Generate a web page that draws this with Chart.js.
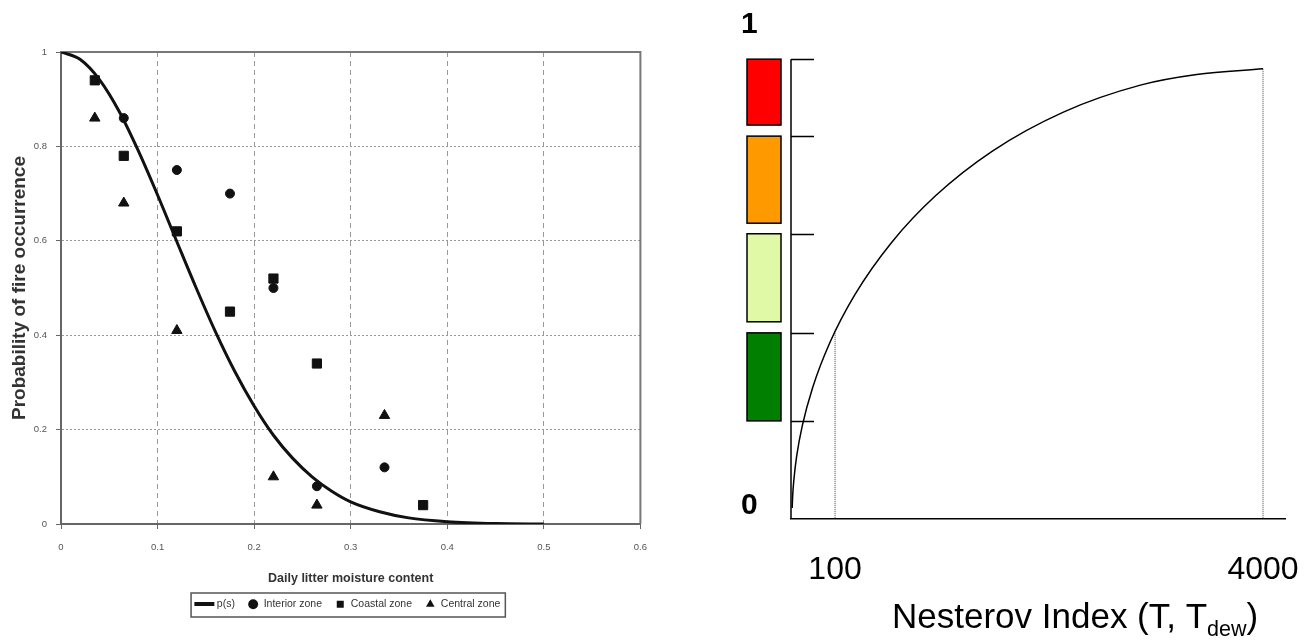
<!DOCTYPE html>
<html lang="en">
<head>
  <meta charset="UTF-8">
  <title>Probability of fire occurrence / Nesterov index</title>
  <script src="https://cdn.jsdelivr.net/npm/chart.js"></script>
  <style>
    html, body { margin: 0; padding: 0; background: #fff; }
    .wrap { position: relative; width: 1315px; height: 641px; }
    #leftBox { position: absolute; left: 0; top: 0; width: 660px; height: 641px; }
    #rightBox { position: absolute; left: 660px; top: 0; width: 655px; height: 641px; }
  </style>
</head>
<body>
  <div class="wrap">
    <div id="leftBox"><canvas id="moistureChart"></canvas></div>
    <div id="rightBox"><canvas id="nesterovChart"></canvas></div>
  </div>

  <script>
    // ---- left panel: probability of fire vs daily litter moisture ----
    const xTicksLeft = [0, 0.1, 0.2, 0.3, 0.4, 0.5, 0.6];
    const yTicksLeft = [0, 0.2, 0.4, 0.6, 0.8, 1];

    // fitted curve p(s)
    const moisture = [0, 0.02, 0.04, 0.06, 0.08, 0.1, 0.12, 0.14, 0.16, 0.18, 0.2, 0.22, 0.24, 0.26, 0.28, 0.3, 0.33, 0.36, 0.4, 0.45, 0.5];
    const pFit = [1, 0.984, 0.941, 0.875, 0.791, 0.697, 0.598, 0.5, 0.407, 0.323, 0.25, 0.188, 0.139, 0.1, 0.07, 0.047, 0.026, 0.013, 0.005, 0.001, 0];

    const interiorX = [0.065, 0.12, 0.175, 0.22, 0.265, 0.335];
    const interiorY = [0.86, 0.75, 0.70, 0.50, 0.08, 0.12];
    const coastalX = [0.035, 0.065, 0.12, 0.175, 0.22, 0.265, 0.375];
    const coastalY = [0.94, 0.78, 0.62, 0.45, 0.52, 0.34, 0.04];
    const centralX = [0.035, 0.065, 0.12, 0.22, 0.265, 0.335];
    const centralY = [0.86, 0.68, 0.41, 0.10, 0.04, 0.23];

    // ---- right panel: fire danger vs Nesterov index ----
    const nesterovTicks = [100, 4000];
    const dangerTicks = [0, 1];
    const nesterov = [69.1, 69.4, 70.1, 71.8, 75.4, 82.4, 95.3, 118.8, 162.8, 237.7, 388.2, 715.8, 1390, 2258, 4000];
    const danger = [0.023, 0.049, 0.081, 0.130, 0.194, 0.273, 0.365, 0.467, 0.575, 0.672, 0.765, 0.846, 0.902, 0.924, 0.936];
    const dropX = [100, 4000];
    const dropTop = [0.387, 0.936];
    // danger classes (top to bottom)
    const bandTop = [0.956, 0.796, 0.593, 0.387];
    const bandBottom = [0.819, 0.615, 0.410, 0.204];
    const bandColors = ['#ff0000', '#ff9900', '#dff9a6', '#007f00'];

    const pts = (xs, ys) => xs.map((x, i) => ({ x: x, y: ys[i] }));

    const ARIAL = 'Arial, "Liberation Sans", sans-serif';

    // thick line swatch for the p(s) legend entry
    const lineSwatch = document.createElement('canvas');
    lineSwatch.width = 26;
    lineSwatch.height = 4;
    const sctx = lineSwatch.getContext('2d');
    sctx.fillStyle = '#111';
    sctx.fillRect(1, 0, 20, 4);

    const plotFrame = {
      id: 'plotFrame',
      beforeDatasetsDraw(chart) {
        const { ctx, chartArea: a } = chart;
        ctx.save();
        ctx.strokeStyle = '#777';
        ctx.lineWidth = 2;
        ctx.beginPath();
        ctx.moveTo(a.left, a.top);
        ctx.lineTo(a.right, a.top);
        ctx.lineTo(a.right, a.bottom);
        ctx.stroke();
        ctx.restore();
      },
      afterDraw(chart) {
        const boxes = chart.legend && chart.legend.legendHitBoxes;
        if (!boxes || !boxes.length) return;
        const left = Math.min(...boxes.map(b => b.left)) - 10;
        const right = Math.max(...boxes.map(b => b.left + b.width)) + 5;
        const top = Math.min(...boxes.map(b => b.top)) - 6;
        const bottom = Math.max(...boxes.map(b => b.top + b.height)) + 7.5;
        const ctx = chart.ctx;
        ctx.save();
        ctx.strokeStyle = '#555';
        ctx.lineWidth = 1.5;
        ctx.strokeRect(left, top, right - left, bottom - top);
        ctx.restore();
      }
    };

    new Chart(document.getElementById('moistureChart'), {
      type: 'scatter',
      data: {
        datasets: [
          {
            label: 'p(s)',
            data: pts(moisture, pFit),
            showLine: true,
            cubicInterpolationMode: 'monotone',
            borderColor: '#111',
            borderWidth: 3,
            pointRadius: 0,
            pointStyle: 'line'
          },
          {
            label: 'Interior zone',
            data: pts(interiorX, interiorY),
            pointStyle: 'circle',
            pointRadius: 4.5,
            backgroundColor: '#111',
            borderColor: '#111'
          },
          {
            label: 'Coastal zone',
            data: pts(coastalX, coastalY),
            pointStyle: 'rect',
            pointRadius: 6.5,
            backgroundColor: '#111',
            borderColor: '#111'
          },
          {
            label: 'Central zone',
            data: pts(centralX, centralY),
            pointStyle: 'triangle',
            pointRadius: 6,
            backgroundColor: '#111',
            borderColor: '#111'
          }
        ]
      },
      options: {
        responsive: true,
        maintainAspectRatio: false,
        animation: false,
        layout: { padding: { left: 0, top: 52, right: 18, bottom: 21.5 } },
        plugins: {
          tooltip: { enabled: false },
          legend: {
            position: 'bottom',
            fullSize: false,
            labels: {
              usePointStyle: true,
              boxHeight: 7,
              padding: 13,
              color: '#333',
              font: { family: ARIAL, size: 10.5 },
              generateLabels(chart) {
                return chart.data.datasets.map((ds, i) => ({
                  text: ds.label,
                  fillStyle: '#111',
                  strokeStyle: '#111',
                  lineWidth: 0,
                  pointStyle: i === 0 ? lineSwatch : ds.pointStyle,
                  hidden: false,
                  datasetIndex: i,
                  fontColor: '#333'
                }));
              }
            }
          }
        },
        scales: {
          x: {
            type: 'linear',
            min: 0,
            max: 0.6,
            afterBuildTicks(scale) { scale.ticks = xTicksLeft.map(v => ({ value: v })); },
            afterFit(scale) { scale.height = 62; },
            ticks: {
              padding: 13,
              color: '#555',
              font: { family: ARIAL, size: 9.5 },
              callback: v => String(v)
            },
            grid: {
              color: '#999',
              lineWidth: 1,
              tickLength: 5,
              tickColor: '#666',
              tickBorderDash: []
            },
            border: { display: true, color: '#666', width: 2, dash: [5, 4] },
            title: {
              display: true,
              text: 'Daily litter moisture content',
              color: '#333',
              font: { family: ARIAL, size: 12.5, weight: 'bold' },
              padding: { top: 0, bottom: 0 }
            }
          },
          y: {
            type: 'linear',
            min: 0,
            max: 1,
            afterBuildTicks(scale) { scale.ticks = yTicksLeft.map(v => ({ value: v })); },
            afterFit(scale) { scale.width = 61; },
            ticks: {
              padding: 9,
              color: '#555',
              font: { family: ARIAL, size: 9.5 },
              callback: v => String(v)
            },
            grid: {
              color: '#999',
              lineWidth: 1,
              tickLength: 5,
              tickColor: '#666',
              tickBorderDash: []
            },
            border: { display: true, color: '#666', width: 2, dash: [2, 2] },
            title: {
              display: true,
              text: 'Probability of fire occurrence',
              color: '#333',
              font: { family: ARIAL, size: 19, weight: 'bold' },
              padding: { top: 8, bottom: 0 }
            }
          }
        }
      },
      plugins: [plotFrame]
    });

    // coloured danger classes, their tick marks and the vertical axis line
    const dangerBands = {
      id: 'dangerBands',
      beforeDatasetsDraw(chart) {
        const { ctx, chartArea: a } = chart;
        const y = chart.scales.y;
        ctx.save();
        ctx.lineWidth = 1.5;
        ctx.strokeStyle = '#000';
        bandTop.forEach((top, i) => {
          const y1 = y.getPixelForValue(top);
          const y2 = y.getPixelForValue(bandBottom[i]);
          ctx.fillStyle = bandColors[i];
          ctx.fillRect(a.left - 44, y1, 34, y2 - y1);
          ctx.strokeRect(a.left - 44, y1, 34, y2 - y1);
        });
        const marks = bandTop.concat([bandBottom[bandBottom.length - 1]]);
        ctx.beginPath();
        marks.forEach(v => {
          const py = Math.round(y.getPixelForValue(v)) + 0.5;
          ctx.moveTo(a.left, py);
          ctx.lineTo(a.left + 23, py);
        });
        ctx.moveTo(a.left, y.getPixelForValue(bandTop[0]));
        ctx.lineTo(a.left, y.getPixelForValue(0));
        ctx.stroke();
        ctx.restore();
      }
    };

    const nesterovTitle = {
      id: 'nesterovTitle',
      afterDraw(chart) {
        const { ctx, chartArea: a } = chart;
        ctx.save();
        ctx.fillStyle = '#000';
        ctx.textBaseline = 'alphabetic';
        ctx.textAlign = 'left';
        let x = a.left + 101;
        const base = a.bottom + 109;
        ctx.font = '35px ' + ARIAL;
        ctx.fillText('Nesterov Index (T, T', x, base);
        x += ctx.measureText('Nesterov Index (T, T').width;
        ctx.font = '21.5px ' + ARIAL;
        ctx.fillText('dew', x, base + 8);
        x += ctx.measureText('dew').width;
        ctx.font = '35px ' + ARIAL;
        ctx.fillText(')', x, base);
        ctx.restore();
      }
    };

    new Chart(document.getElementById('nesterovChart'), {
      type: 'scatter',
      data: {
        datasets: [
          {
            label: 'fire danger',
            data: pts(nesterov, danger),
            showLine: true,
            cubicInterpolationMode: 'monotone',
            borderColor: '#000',
            borderWidth: 1.5,
            pointRadius: 0
          }
        ].concat(dropX.map((v, i) => ({
          label: 'drop ' + v,
          data: [{ x: v, y: dropTop[i] }, { x: v, y: 0 }],
          showLine: true,
          borderColor: '#444',
          borderWidth: 1,
          borderDash: [1, 1],
          pointRadius: 0
        })))
      },
      options: {
        responsive: true,
        maintainAspectRatio: false,
        animation: false,
        layout: { padding: { left: 81, top: 38, right: 30, bottom: 0 } },
        plugins: { legend: { display: false }, tooltip: { enabled: false } },
        scales: {
          x: {
            type: 'logarithmic',
            min: 68.4,
            max: 4835,
            afterBuildTicks(scale) { scale.ticks = nesterovTicks.map(v => ({ value: v })); },
            afterFit(scale) { scale.height = 122; },
            ticks: {
              padding: 0,
              color: '#000',
              // tall line box pushes the labels down without adding side padding
              font: { family: ARIAL, size: 32, lineHeight: 3.19 },
              callback: v => String(v)
            },
            grid: { display: false, drawTicks: false },
            border: { display: true, color: '#000', width: 1.5 }
          },
          y: {
            type: 'linear',
            min: 0,
            max: 1,
            afterBuildTicks(scale) { scale.ticks = dangerTicks.map(v => ({ value: v })); },
            afterFit(scale) { scale.width = 50; },
            ticks: {
              padding: 0,
              crossAlign: 'far',
              labelOffset: -13,
              color: '#000',
              font: { family: ARIAL, size: 30, weight: 'bold' },
              callback: v => String(v)
            },
            grid: { display: false, drawTicks: false },
            border: { display: false }
          }
        }
      },
      plugins: [dangerBands, nesterovTitle]
    });
  </script>
</body>
</html>
